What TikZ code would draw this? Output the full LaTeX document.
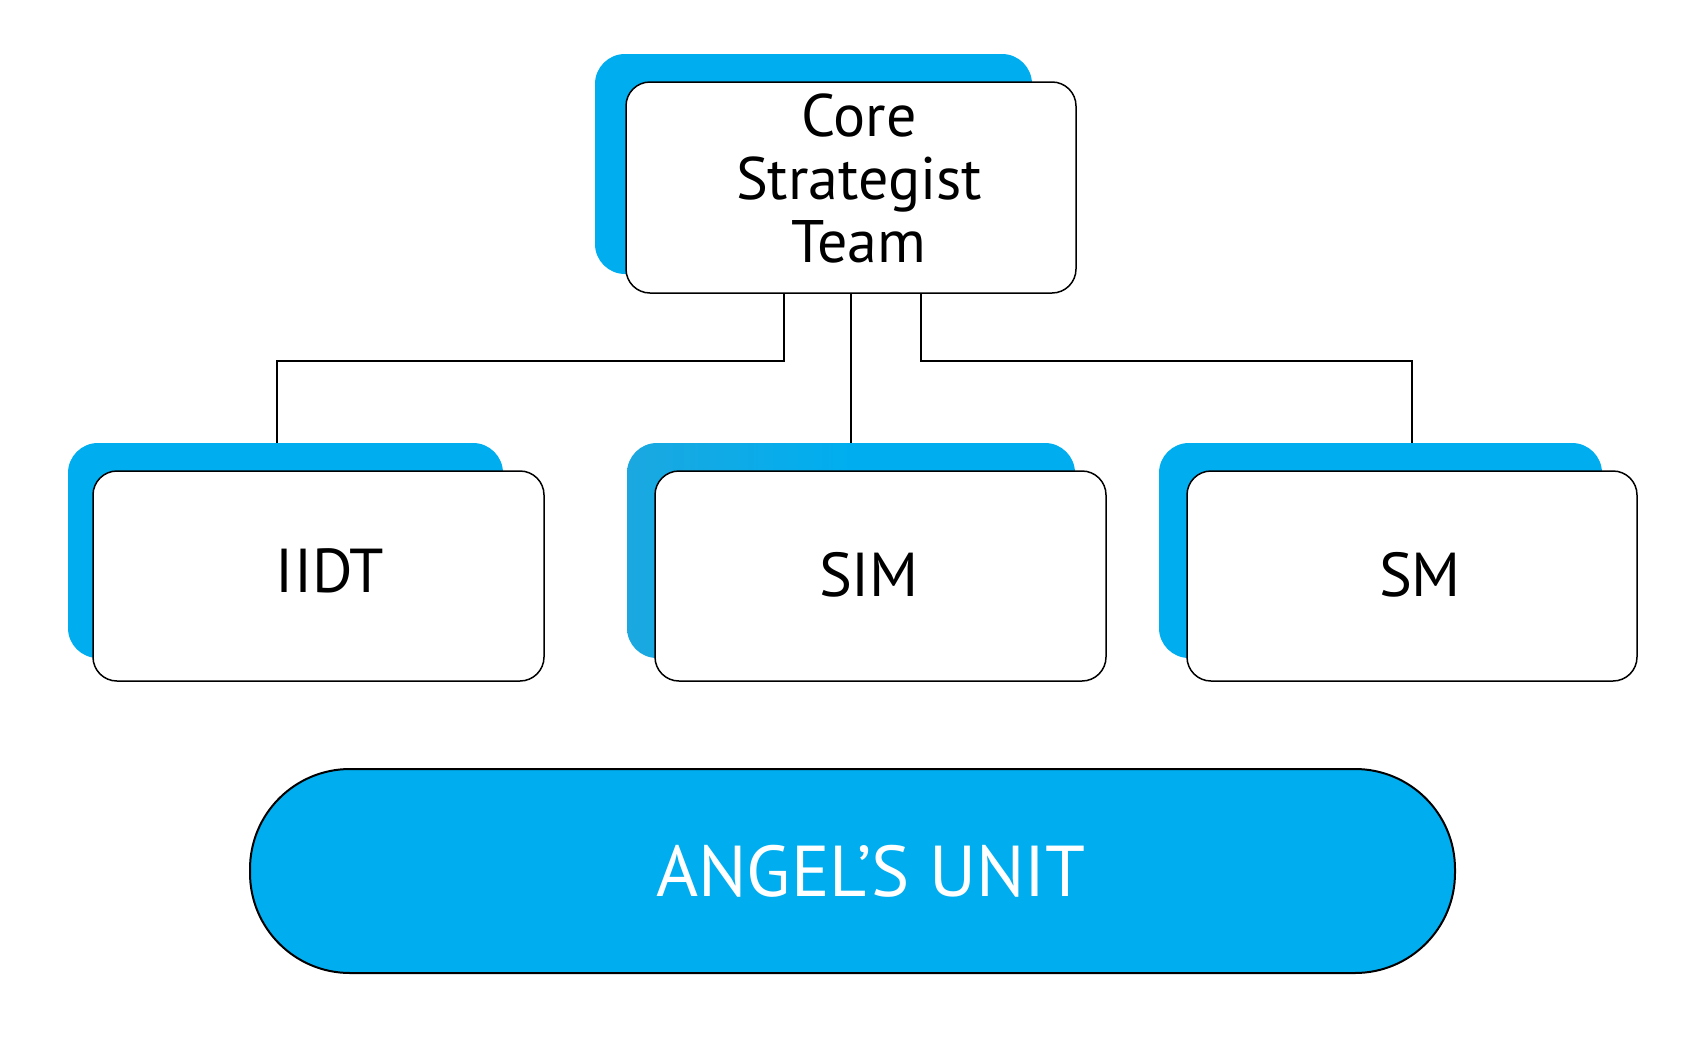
\documentclass[tikz,border=0pt]{standalone}
\usepackage{fontspec}
\setmainfont{PT Sans}
\definecolor{cyanA}{HTML}{00AEEF}
\definecolor{cyanB}{HTML}{1BA8E0}
\begin{document}
\begin{tikzpicture}[x=1pt,y=-1pt,
  shadowbox/.style={fill=cyanA, draw=none, rounded corners=30, inner sep=0, minimum width=#1},
  whitebox/.style={fill=white, draw=black, line width=1.5, rounded corners=24, inner sep=0, minimum width=451, minimum height=210},
  lbl/.style={inner sep=0, anchor=base, font=\fontsize{62}{64}\selectfont},
  conn/.style={draw=black, line width=2}]
\useasboundingbox (0,0) rectangle (1698,1047);
% top
\node[shadowbox=437, minimum height=220] (sh0) at (813.5,164) {};
\node[whitebox, minimum width=450, minimum height=211] (top) at (851,187.5) {};
\node[inner sep=0, anchor=north, align=center, font=\fontsize{60}{63}\selectfont] (toptxt) at (859,94) {Core\\Strategist\\Team};
% second row
\node[shadowbox=435, minimum height=215] (sh1) at (285.5,550.5) {};
\node[shadowbox=448, minimum height=215, left color=cyanB, right color=cyanA, middle color=cyanA, fill=none] (sh2) at (851,550.5) {};
\node[shadowbox=443, minimum height=215] (sh3) at (1380.5,550.5) {};
\node[whitebox] (b1) at (318.5,576) {};
\node[whitebox] (b2) at (880.5,576) {};
\node[whitebox, minimum width=450] (b3) at (1412,576) {};
\node[lbl] (t1) at (330,592) {IIDT};
\node[lbl] (t2) at (869,596) {SIM};
\node[lbl] (t3) at (1420,596) {SM};
% connectors
\draw[conn] ([xshift=-67]top.south) -- ++(0,67) -| ([xshift=-8.5]sh1.north);
\draw[conn] (top.south) -- (sh2.north);
\draw[conn] ([xshift=70]top.south) -- ++(0,67) -| ([xshift=31.5]sh3.north);
% pill
\node[fill=cyanA, draw=black, line width=2, rounded corners=100, inner sep=0, minimum width=1205, minimum height=204] (pill) at (852.5,871) {};
\node[inner sep=0, anchor=base, text=white, font=\fontsize{72}{74}\selectfont] (pilltxt) at (871,896) {ANGEL’S UNIT};
\end{tikzpicture}
\end{document}
